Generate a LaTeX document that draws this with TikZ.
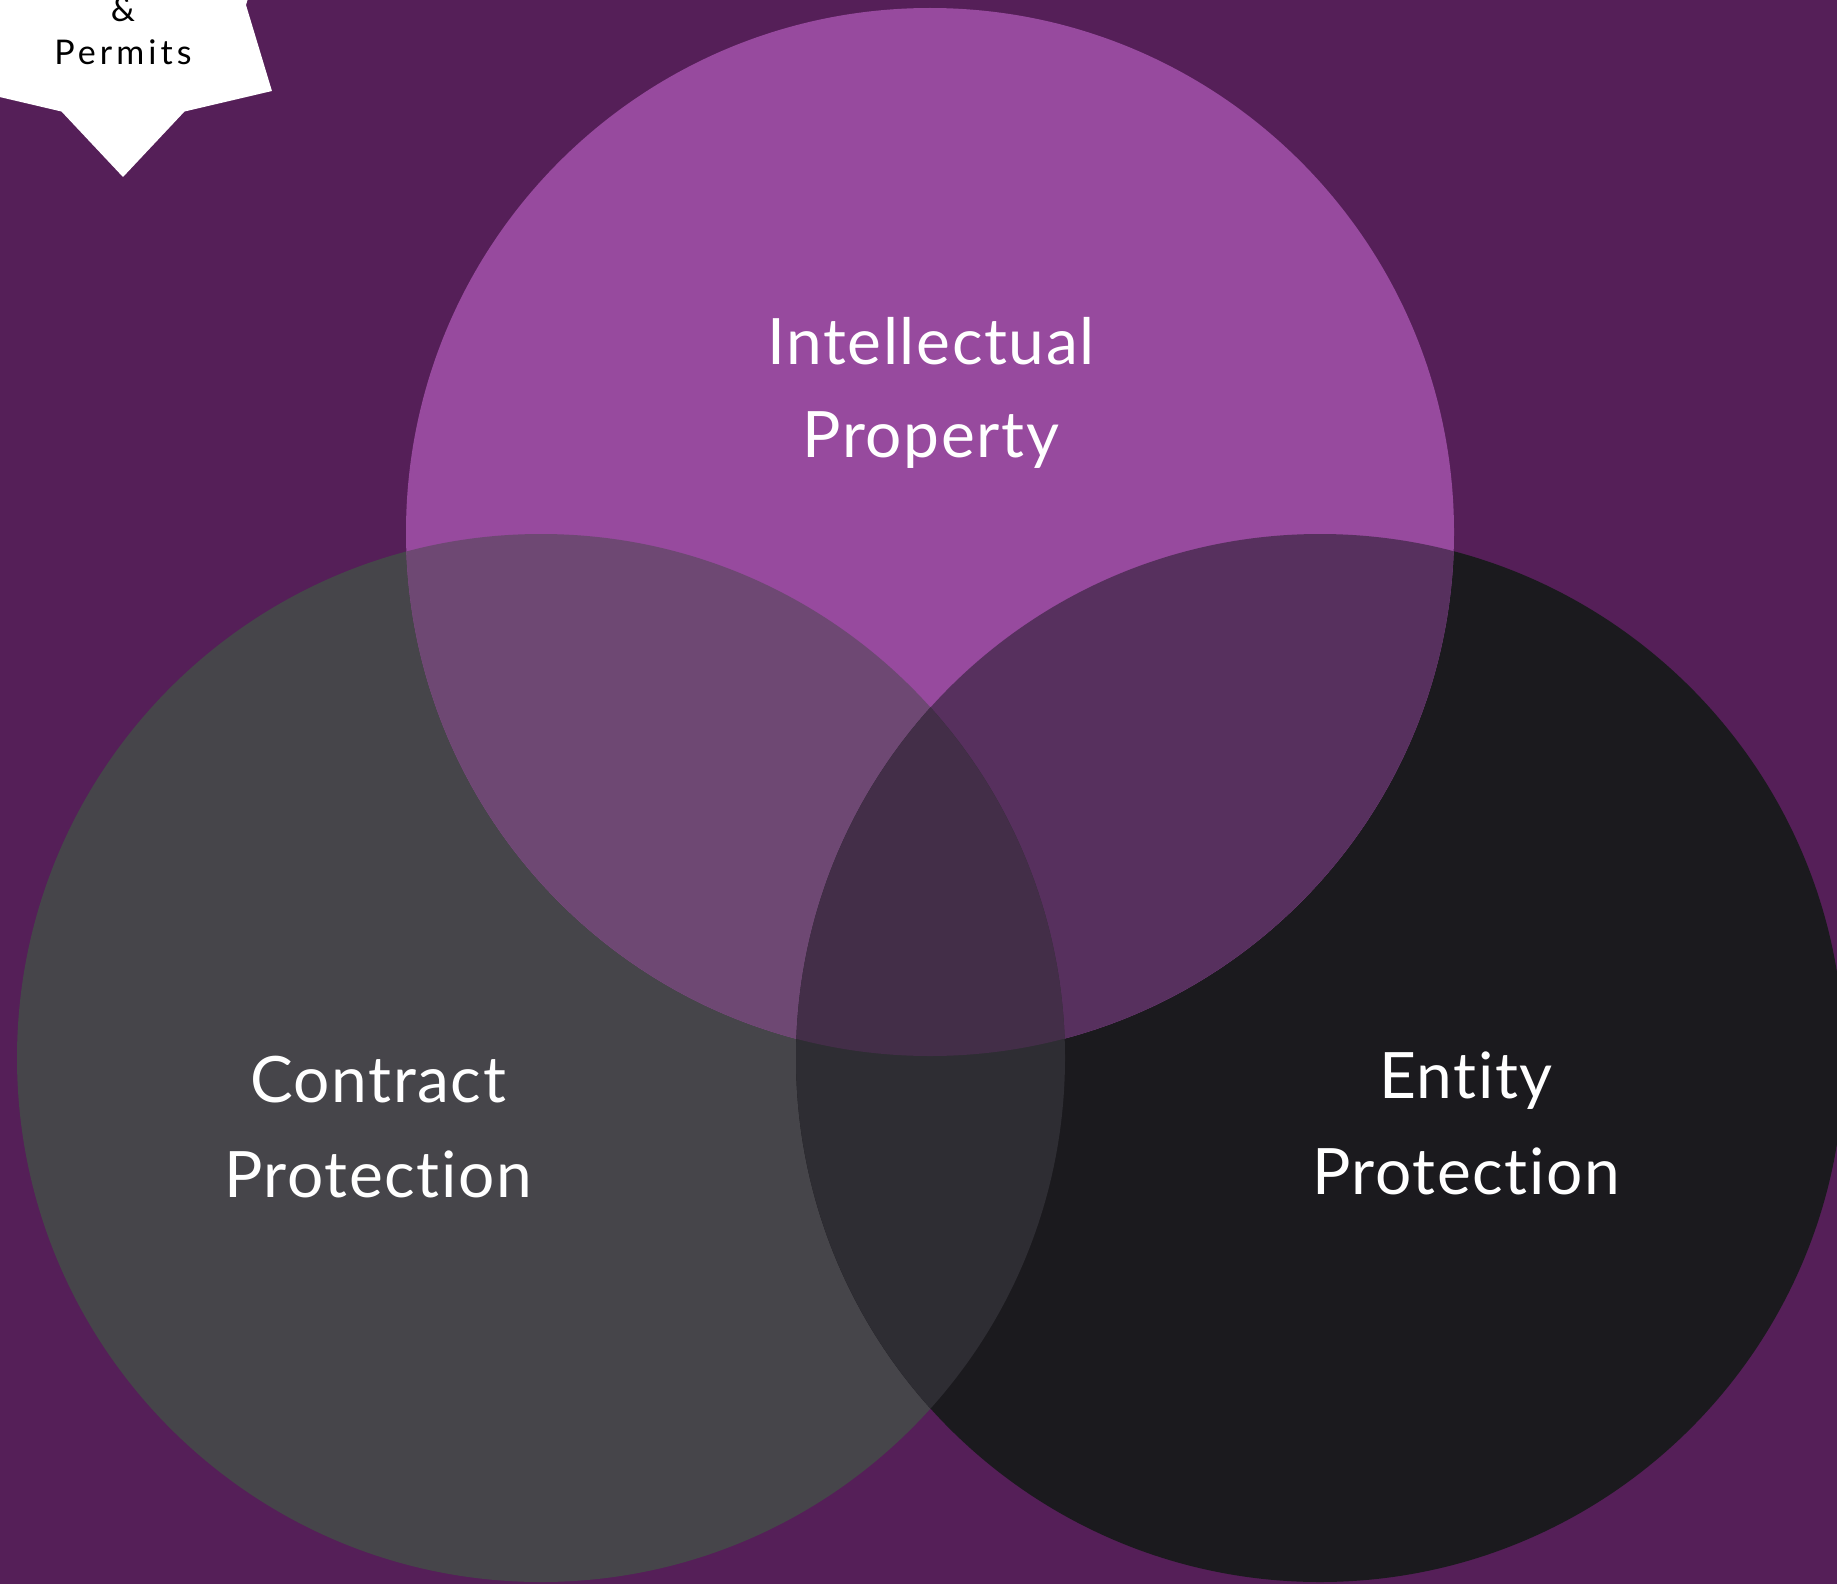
\documentclass[tikz,border=0pt]{standalone}
\usepackage{fontspec}
\setmainfont{Lato}[Ligatures=NoCommon]
\newfontfamily\labelfont[Ligatures=NoCommon,LetterSpace=2.5]{Lato}
\newfontfamily\spacedfont[Ligatures=NoCommon,LetterSpace=12]{Lato}
\definecolor{bgpurple}{HTML}{551F58}
\definecolor{ipcol}{HTML}{974A9E}
\definecolor{cpcol}{HTML}{46454A}
\definecolor{epcol}{HTML}{1B1A1E}
\definecolor{ipcp}{HTML}{6E4873}
\definecolor{ipep}{HTML}{57305E}
\definecolor{cpep}{HTML}{2E2D33}
\definecolor{allcol}{HTML}{432E48}
\begin{document}
\begin{tikzpicture}[x=1pt,y=-1pt,
  biglabel/.style={text=white,anchor=base,inner sep=0pt,font=\labelfont\fontsize{64}{64}\selectfont},
  starlabel/.style={text=black,anchor=base,inner sep=0pt,font=\spacedfont\fontsize{34}{34}\selectfont},
  starfill/.style={fill=white}]
\useasboundingbox (0,0) rectangle (1837,1584);
\clip (0,0) rectangle (1837,1584);
\fill[bgpurple] (0,0) rectangle (1837,1584);
% circle centres
\coordinate (ipc) at (930,532);
\coordinate (cpc) at (541,1058);
\coordinate (epc) at (1320,1058);
\def\rad{524pt}
% single regions
\fill[cpcol] (cpc) circle[radius=\rad];
\fill[epcol] (epc) circle[radius=\rad];
\fill[ipcol] (ipc) circle[radius=\rad];
% pairwise overlaps
\begin{scope}
  \clip (cpc) circle[radius=\rad];
  \fill[ipcp] (ipc) circle[radius=\rad];
\end{scope}
\begin{scope}
  \clip (epc) circle[radius=\rad];
  \fill[ipep] (ipc) circle[radius=\rad];
\end{scope}
\begin{scope}
  \clip (cpc) circle[radius=\rad];
  \fill[cpep] (epc) circle[radius=\rad];
\end{scope}
% triple overlap
\begin{scope}
  \clip (cpc) circle[radius=\rad];
  \clip (epc) circle[radius=\rad];
  \fill[allcol] (ipc) circle[radius=\rad];
\end{scope}
% labels
\node[biglabel] (ip1) at (931,364) {Intellectual};
\node[biglabel] (ip2) at (931,457) {Property};
\node[biglabel] (cp1) at (378,1102) {Contract};
\node[biglabel] (cp2) at (378,1197) {Protection};
\node[biglabel] (ep1) at (1466,1098) {Entity};
\node[biglabel] (ep2) at (1466,1194) {Protection};
% star badge
\begin{scope}[shift={(123,5)}]
  \fill[starfill] (30:172) -- (60:123) -- (90:172) -- (120:123) -- (150:172) -- (180:123)
    -- (210:172) -- (240:123) -- (270:172) -- (300:123) -- (330:172) -- (0:123) -- cycle;
\end{scope}
\node[starlabel] (amp) at (123,22) {\&};
\node[starlabel] (permits) at (123,65) {Permits};
\end{tikzpicture}
\end{document}
